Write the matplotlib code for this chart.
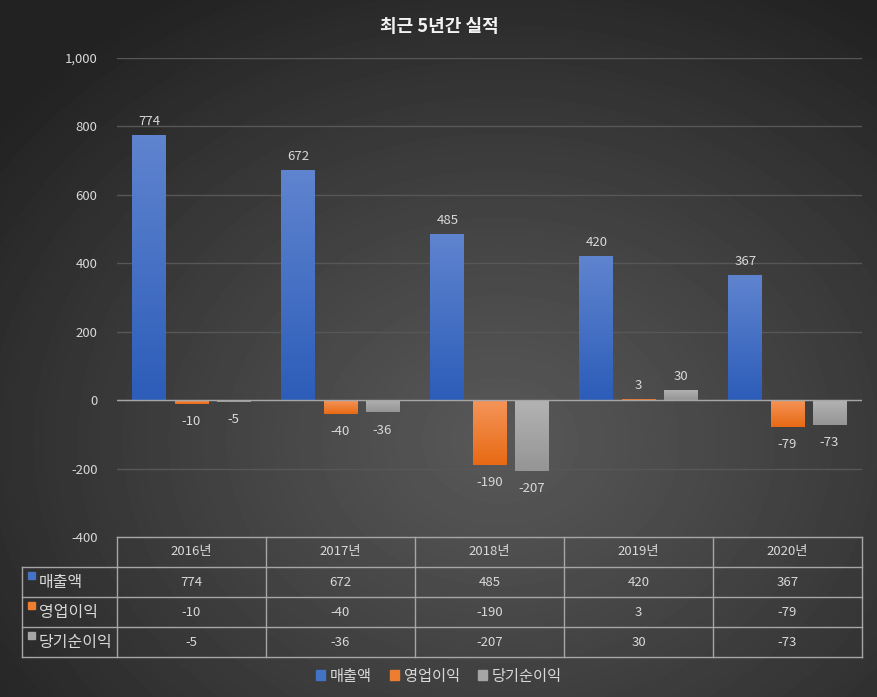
import matplotlib
matplotlib.use('Agg')
import matplotlib.pyplot as plt
import numpy as np
from matplotlib.colors import LinearSegmentedColormap
from matplotlib.patches import Rectangle

plt.rcParams['font.family'] = ['Noto Sans CJK KR', 'DejaVu Sans']

years = ['2016년', '2017년', '2018년', '2019년', '2020년']
series_names = ['매출액', '영업이익', '당기순이익']
sales = [774, 672, 485, 420, 367]
op_profit = [-10, -40, -190, 3, -79]
net_profit = [-5, -36, -207, 30, -73]
series_values = [sales, op_profit, net_profit]
y_ticks = [-400, -200, 0, 200, 400, 600, 800, 1000]

# (top colour, bottom colour) for each series
grad_colors = [('#5f84cf', '#2d5db9'), ('#f5955a', '#e86a14'), ('#b3b3b3', '#959595')]
legend_colors = ['#4472c4', '#ed7d31', '#a5a5a5']
txt = '#d9d9d9'
W, H = 878, 697

fig = plt.figure(figsize=(W / 100, H / 100), dpi=100)

# radial gradient background
bg = fig.add_axes([0, 0, 1, 1], zorder=-10)
yy, xx = np.mgrid[0:H, 0:W]
r = np.sqrt(((xx - 500) / 640.0) ** 2 + ((yy - 440) / 520.0) ** 2)
r = np.clip(r, 0, 1)
shade = 0x58 - (0x58 - 0x22) * r ** 1.1
bg.imshow(shade, cmap='gray', vmin=0, vmax=255, extent=[0, W, H, 0], aspect='auto')
bg.set_axis_off()

left, right, top, bottom = 117, 862, 58, 537
ax = fig.add_axes([left / W, 1 - bottom / H, (right - left) / W, (bottom - top) / H])
ax.set_facecolor('none')
ax.set_yticks(y_ticks)
ax.set_yticklabels([f'{v:,}' for v in y_ticks])
ax.tick_params(axis='y', length=0, colors=txt, labelsize=9.5, pad=14)
ax.set_xticks([])
for s in ax.spines.values():
    s.set_visible(False)
ax.grid(axis='y', color='#575757', linewidth=1)
ax.set_axisbelow(True)
ax.axhline(0, color='#a6a6a6', linewidth=1, zorder=3)

bw = 0.228
gap = 0.054
x = np.arange(len(years))
offsets = [-(bw + gap), 0, bw + gap]
for vals, off, (c_top, c_bot) in zip(series_values, offsets, grad_colors):
    bars = ax.bar(x + off, vals, width=bw, color=c_bot, zorder=2)
    cmap = LinearSegmentedColormap.from_list('g', [c_top, c_bot])
    for b, v in zip(bars, vals):
        x0 = b.get_x()
        y0, y1 = sorted([0, v])
        im = ax.imshow(np.linspace(0, 1, 64).reshape(-1, 1), cmap=cmap, aspect='auto',
                       extent=[x0, x0 + bw, y0, y1], origin='upper', zorder=2.1)
        im.set_clip_path(b)
        if v >= 0:
            ax.annotate(f'{v}', (x0 + bw / 2, v), xytext=(0, 5), textcoords='offset points',
                        ha='center', va='bottom', color=txt, fontsize=9.5)
        else:
            ax.annotate(f'{v}', (x0 + bw / 2, v), xytext=(0, -8), textcoords='offset points',
                        ha='center', va='top', color=txt, fontsize=9.5)
ax.set_xlim(-0.5, 4.5)
ax.set_ylim(-400, 1000)

# data table
line_c = '#a6a6a6'
row_h = 30
tab_top = bottom
tab_left = 22
n_rows = len(series_names) + 1
tab_bot = tab_top + row_h * n_rows
to_fx = lambda px: px / W
to_fy = lambda py: 1 - py / H
col_w = (right - left) / len(years)
# horizontal lines
for i in range(n_rows + 1):
    py = tab_top + i * row_h
    x_start = left if i == 0 else tab_left
    fig.add_artist(plt.Line2D([to_fx(x_start), to_fx(right)], [to_fy(py), to_fy(py)],
                              color=line_c, linewidth=1))
# vertical lines
fig.add_artist(plt.Line2D([to_fx(tab_left)] * 2, [to_fy(tab_top + row_h), to_fy(tab_bot)],
                          color=line_c, linewidth=1))
for j in range(len(years) + 1):
    px = left + j * col_w
    fig.add_artist(plt.Line2D([to_fx(px)] * 2, [to_fy(tab_top), to_fy(tab_bot)],
                              color=line_c, linewidth=1))
for j, yr in enumerate(years):
    fig.text(to_fx(left + (j + 0.5) * col_w), to_fy(tab_top + row_h / 2), yr,
             ha='center', va='center', color=txt, fontsize=9.5)
for i, (name, vals, c) in enumerate(zip(series_names, series_values, legend_colors)):
    cy = tab_top + (i + 1.5) * row_h
    fig.add_artist(Rectangle((to_fx(28), to_fy(cy - 3)), 7 / W, 7 / H, color=c,
                             transform=fig.transFigure))
    fig.text(to_fx(39), to_fy(cy + 1), name, ha='left', va='center', color=txt, fontsize=11.5)
    for j, v in enumerate(vals):
        fig.text(to_fx(left + (j + 0.5) * col_w), to_fy(cy), f'{v}',
                 ha='center', va='center', color=txt, fontsize=9.5)

# legend
handles = [Rectangle((0, 0), 1, 1, color=c) for c in legend_colors]
fig.legend(handles, series_names, loc='center', bbox_to_anchor=(0.5, to_fy(676)), ncol=3,
           frameon=False, handlelength=0.6, handleheight=0.6, handletextpad=0.3,
           columnspacing=1.2, labelcolor=txt, prop={'size': 11})

fig.text(0.5, to_fy(27), '최근 5년간 실적', ha='center', va='center', color='#f2f2f2',
         fontsize=13, fontweight='bold')

fig.savefig('out.png', dpi=100)
